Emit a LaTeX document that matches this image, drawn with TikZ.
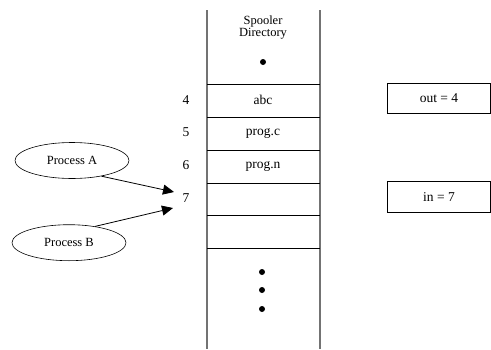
\documentclass[tikz,border=0pt]{standalone}
\usepackage{fontspec}
\setmainfont{Liberation Serif}
\usetikzlibrary{shapes.geometric,arrows.meta}
\begin{document}
\begin{tikzpicture}[x=1pt,y=-1pt,
  txt/.style={font=\fontsize{13.5}{15}\selectfont,inner sep=0pt},
  small/.style={font=\fontsize{12.5}{14}\selectfont,inner sep=0pt,align=center},
  rail/.style={draw=black!55,line width=1.6pt},
  sep/.style={draw=black,line width=0.8pt},
  ptr/.style={draw=black,line width=0.8pt},
  proc/.style={ellipse,draw=black,line width=0.6pt,minimum width=114pt,minimum height=36pt,inner sep=0pt,font=\fontsize{12.5}{14}\selectfont},
  dot/.style={circle,fill=black,inner sep=0pt,minimum size=6pt},
  arr/.style={draw=black,line width=0.8pt,-{Triangle[length=11pt,width=10pt]}}]
\useasboundingbox (0,0) rectangle (491,349);
% directory column
\draw[rail] (207,10) -- (207,349);
\draw[rail] (320,10) -- (320,349);
\foreach \yy in {84,117,150,183,215,248}
  \draw[sep] (207,\yy) -- (320,\yy);
\node[small] (title) at (263,28) {Spooler\\[-2pt]Directory};
\node[dot] (d0) at (263,62) {};
% slot contents
\node[txt] (s4) at (263,100) {abc};
\node[txt] (s5) at (263,133) {prog.c};
\node[txt] (s6) at (263,166) {prog.n};
\node[dot] (d1) at (262,272) {};
\node[dot] (d2) at (262,290) {};
\node[dot] (d3) at (262,309) {};
% slot numbers
\node[txt] (n4) at (186,100) {4};
\node[txt] (n5) at (186,132) {5};
\node[txt] (n6) at (186,165) {6};
\node[txt] (n7) at (186,198) {7};
% shared variables
\node[ptr,minimum width=103pt,minimum height=30pt,txt] (out) at (439,98.5) {out = 4};
\node[ptr,minimum width=103pt,minimum height=31pt,txt] (in) at (439,197) {in = 7};
% processes
\node[proc] (pa) at (72,160.5) {Process A};
\node[proc] (pb) at (69,242.7) {Process B};
\coordinate (ta) at (174,192);
\coordinate (tb) at (173,208);
\draw[arr] (pa.-28) -- (ta);
\draw[arr] (pb.32) -- (tb);
\end{tikzpicture}
\end{document}
